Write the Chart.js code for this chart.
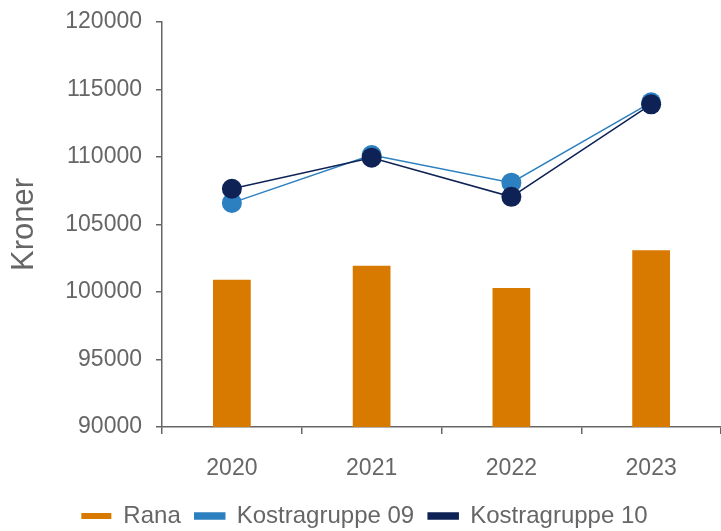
<!DOCTYPE html>
<html>
<head>
<meta charset="utf-8">
<script src="https://cdn.jsdelivr.net/npm/chart.js@4.4.0/dist/chart.umd.min.js"></script>
<style>
  html, body { margin: 0; padding: 0; background: #fff; }
  #wrap { width: 721px; height: 531px; }
</style>
</head>
<body>
<div id="wrap"><canvas id="mycanvas" width="721" height="531"></canvas></div>
<script>
// data
var years = ["2020", "2021", "2022", "2023"];
var rana = [100900, 101950, 100300, 103100];
var kostra09 = [106600, 110150, 108100, 114050];
var kostra10 = [107650, 109950, 107050, 113900];
var yTicks = [90000, 95000, 100000, 105000, 110000, 115000, 120000];

var grey = "#666666";
var font = "'Liberation Sans', Arial, sans-serif";

var chartdata = {
  labels: years,
  datasets: [
    {
      type: "bar",
      label: "Rana",
      data: rana,
      backgroundColor: "#d87900",
      borderWidth: 0,
      barPercentage: 0.54,
      categoryPercentage: 0.5,
      order: 2
    },
    {
      type: "line",
      label: "Kostragruppe 09",
      data: kostra09,
      borderColor: "#2c80c0",
      backgroundColor: "#2c80c0",
      borderWidth: 1.5,
      pointRadius: 10,
      pointHoverRadius: 10,
      pointBorderWidth: 0,
      fill: false,
      order: 1
    },
    {
      type: "line",
      label: "Kostragruppe 10",
      data: kostra10,
      borderColor: "#0e2255",
      backgroundColor: "#0e2255",
      borderWidth: 1.5,
      pointRadius: 10,
      pointHoverRadius: 10,
      pointBorderWidth: 0,
      fill: false,
      order: 0
    }
  ]
};

var ctx = document.getElementById("mycanvas");

var chart = new Chart(ctx, {
  type: "bar",
  data: chartdata,
  options: {
    responsive: false,
    animation: false,
    layout: { autoPadding: false, padding: { top: 22, right: -8, left: 0, bottom: -7 } },
    plugins: {
      tooltip: { enabled: false },
      legend: {
        position: "bottom",
        labels: {
          sort: function (a, b) { return a.datasetIndex - b.datasetIndex; },
          boxWidth: 30,
          boxHeight: 6,
          padding: 14,
          color: grey,
          font: { family: font, size: 24 }
        }
      }
    },
    scales: {
      x: {
        offset: true,
        afterFit: function (scale) {
          scale.height = 63;
          scale.paddingLeft = 0;
          scale.paddingRight = 0;
        },
        border: { display: true, color: grey, width: 1.5 },
        grid: { display: true, drawOnChartArea: false, offset: true, tickLength: 7, color: grey, lineWidth: 1.5 },
        ticks: { color: grey, padding: 21, font: { family: font, size: 23 } }
      },
      y: {
        min: 90000,
        max: 120000,
        afterBuildTicks: function (scale) {
          scale.ticks = yTicks.map(function (v) { return { value: v }; });
        },
        afterFit: function (scale) {
          scale.width = 162;
          scale.paddingTop = 0;
          scale.paddingBottom = 0;
        },
        border: { display: true, color: grey, width: 1.5 },
        grid: { display: true, drawOnChartArea: false, tickLength: 6, color: grey, lineWidth: 1.5 },
        ticks: {
          color: grey,
          padding: 14,
          font: { family: font, size: 23 },
          callback: function (v) { return String(v); }
        },
        title: {
          display: true,
          text: "Kroner",
          color: grey,
          padding: { top: 6, bottom: 0 },
          font: { family: font, size: 31 }
        }
      }
    }
  }
});
</script>
</body>
</html>
